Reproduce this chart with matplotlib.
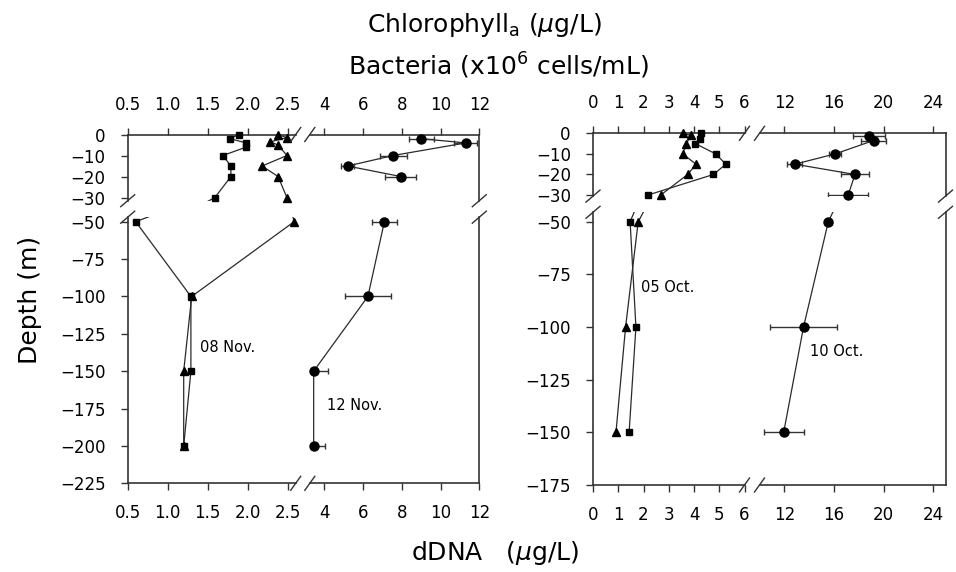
import matplotlib
matplotlib.use("Agg")
import matplotlib.pyplot as plt
from matplotlib.lines import Line2D

plt.rcParams['font.family'] = ['DejaVu Sans']
plt.rcParams['mathtext.fontset'] = 'dejavusans'

# ---------------- data ----------------
# Left panel (November): squares & triangles on low x-range, bacteria (circles) on high range
nov_sq_depth = [0, -2, -4, -6, -10, -15, -20, -30, -50, -100, -150, -200]
nov_sq_val = [1.89, 1.78, 1.98, 1.98, 1.69, 1.79, 1.79, 1.59, 0.60, 1.29, 1.29, 1.20]
nov_tri_depth = [0, -1.5, -3.5, -5, -10, -15, -20, -30, -50, -100, -150, -200]
nov_tri_val = [2.38, 2.49, 2.28, 2.38, 2.49, 2.18, 2.38, 2.49, 2.58, 1.30, 1.20, 1.20]
nov_bact_depth = [-2, -4, -10, -15, -20, -50, -100, -150, -200]
nov_bact_val = [9.0, 11.3, 7.55, 5.2, 7.95, 7.1, 6.25, 3.45, 3.45]
nov_bact_err = [0.65, 0.6, 0.7, 0.35, 0.8, 0.65, 1.2, 0.75, 0.6]

# Right panel (October)
oct_sq_depth = [0, -3, -5, -10, -15, -20, -30, -50, -100, -150]
oct_sq_val = [4.27, 4.25, 4.05, 4.86, 5.26, 4.77, 2.17, 1.47, 1.70, 1.43]
oct_tri_depth = [0, -1, -5, -10, -15, -20, -30, -50, -100, -150]
oct_tri_val = [3.55, 3.87, 3.70, 3.55, 4.08, 3.75, 2.68, 1.79, 1.29, 0.91]
oct_bact_depth = [-1.5, -3.5, -10, -15, -20, -30, -50, -100, -150]
oct_bact_val = [18.8, 19.2, 16.1, 12.85, 17.7, 17.15, 15.55, 13.55, 11.95]
oct_bact_err = [1.3, 1.0, 0.5, 0.6, 1.1, 1.6, 0.3, 2.7, 1.6]

# ticks
nov_xticks = [[0.5, 1.0, 1.5, 2.0, 2.5], [4, 6, 8, 10, 12]]
oct_xticks = [[0, 1, 2, 3, 4, 5, 6], [12, 16, 20, 24]]
upper_yticks = [0, -10, -20, -30]
nov_lower_yticks = [-50, -75, -100, -125, -150, -175, -200, -225]
oct_lower_yticks = [-50, -75, -100, -125, -150, -175]

# ---------------- figure ----------------
W, H = 956, 572
fig = plt.figure(figsize=(W / 100, H / 100), dpi=100)
AX_C = '#333333'
LINE_C = '#2a2a2a'
TICK_FS = 12


def add_ax(x0, x1, y0, y1):
    return fig.add_axes([x0 / W, 1 - y1 / H, (x1 - x0) / W, (y1 - y0) / H])


def brk(px, py, dx, dy):
    fig.add_artist(Line2D([(px - dx) / W, (px + dx) / W],
                          [1 - (py + dy) / H, 1 - (py - dy) / H],
                          transform=fig.transFigure, color=AX_C, lw=1.0))


def in_lim(ax, x, y):
    x0, x1 = ax.get_xlim()
    y0, y1 = ax.get_ylim()
    return x0 <= x <= x1 and y0 <= y <= y1


def make_panel(xpix, ypix, xlims, ylims, xticks, yticks):
    grid = [[None, None], [None, None]]
    for r in range(2):
        for c in range(2):
            ax = add_ax(xpix[c][0], xpix[c][1], ypix[r][0], ypix[r][1])
            ax.set_facecolor('none')
            ax.set_xlim(*xlims[c])
            ax.set_ylim(*ylims[r])
            for s in ax.spines.values():
                s.set_color(AX_C)
                s.set_linewidth(1.2)
            ax.spines['left'].set_visible(c == 0)
            ax.spines['right'].set_visible(c == 1)
            ax.spines['top'].set_visible(r == 0)
            ax.spines['bottom'].set_visible(r == 1)
            ax.set_xticks(xticks[c])
            ax.tick_params(axis='x', top=(r == 0), bottom=(r == 1),
                           labeltop=(r == 0), labelbottom=(r == 1),
                           direction='out', length=5, width=1, pad=10,
                           labelsize=TICK_FS, color=AX_C)
            if c == 0:
                ax.set_yticks(yticks[r])
            else:
                ax.set_yticks([])
            ax.tick_params(axis='y', left=(c == 0), right=False,
                           labelleft=(c == 0), direction='out', length=5,
                           width=1, pad=11, labelsize=TICK_FS, color=AX_C)
            grid[r][c] = ax
    # break marks
    for py in (ypix[0][1], ypix[1][0]):
        brk(xpix[0][0], py, 7, 6)
        brk(xpix[1][1], py, 7, 6)
    for px in (xpix[0][1], xpix[1][0]):
        brk(px, ypix[0][0], 5, 7)
        brk(px, ypix[1][1], 5, 7)
    return grid


def profile(ax, vals, depths, marker, ms):
    ax.plot(vals, depths, '-', color=LINE_C, lw=0.9, clip_on=True, zorder=2)
    pts = [(v, d) for v, d in zip(vals, depths) if in_lim(ax, v, d)]
    if pts:
        ax.plot([p[0] for p in pts], [p[1] for p in pts], linestyle='none',
                marker=marker, ms=ms, color='black', clip_on=False, zorder=4)


def bact(ax, vals, depths, errs):
    ax.plot(vals, depths, '-', color=LINE_C, lw=0.9, clip_on=True, zorder=2)
    ax.errorbar(vals, depths, xerr=errs, fmt='none', ecolor='#333333',
                elinewidth=1.0, capsize=2.2, capthick=1.0, zorder=3)
    pts = [(v, d) for v, d in zip(vals, depths) if in_lim(ax, v, d)]
    if pts:
        ax.plot([p[0] for p in pts], [p[1] for p in pts], linestyle='none',
                marker='o', ms=6.5, color='black', clip_on=False, zorder=4)


# ---- left panel (November) ----
L = make_panel(xpix=[(127.7, 295.7), (309.8, 479.3)],
               ypix=[(134.5, 200.7), (217.2, 483.3)],
               xlims=[(0.5, 2.6), (3.25, 12)],
               ylims=[(-31.5, 0), (-225, -47)],
               xticks=nov_xticks,
               yticks=[upper_yticks, nov_lower_yticks])
for r in range(2):
    ax = L[r][0]
    profile(ax, nov_sq_val, nov_sq_depth, 's', 4.6)
    profile(ax, nov_tri_val, nov_tri_depth, '^', 5.5)
up = [i for i, d in enumerate(nov_bact_depth) if d > -40]
lo = [i for i, d in enumerate(nov_bact_depth) if d <= -40]
bact(L[0][1], [nov_bact_val[i] for i in up], [nov_bact_depth[i] for i in up],
     [nov_bact_err[i] for i in up])
bact(L[1][1], [nov_bact_val[i] for i in lo], [nov_bact_depth[i] for i in lo],
     [nov_bact_err[i] for i in lo])

# ---- right panel (October) ----
R = make_panel(xpix=[(593, 744.5), (759.5, 945.5)],
               ypix=[(133.3, 196.1), (212.3, 485)],
               xlims=[(0, 6), (10, 25)],
               ylims=[(-30.5, 0), (-175, -45.5)],
               xticks=oct_xticks,
               yticks=[upper_yticks, oct_lower_yticks])
for r in range(2):
    ax = R[r][0]
    profile(ax, oct_sq_val, oct_sq_depth, 's', 4.6)
    profile(ax, oct_tri_val, oct_tri_depth, '^', 5.5)
    bact(R[r][1], oct_bact_val, oct_bact_depth, oct_bact_err)


# ---- annotations ----
def ftext(px, py, s, **kw):
    fig.text(px / W, 1 - py / H, s, **kw)


ftext(200, 348, '08 Nov.', fontsize=10.5, ha='left', va='center')
ftext(327, 406, '12 Nov.', fontsize=10.5, ha='left', va='center')
ftext(641, 288, '05 Oct.', fontsize=10.5, ha='left', va='center')
ftext(810, 351, '10 Oct.', fontsize=10.5, ha='left', va='center')

ftext(484, 32, r'Chlorophyll$_{\rm a}$ ($\mu$g/L)', fontsize=18, ha='center', va='baseline')
ftext(498, 75, r'Bacteria (x10$^{6}$ cells/mL)', fontsize=18, ha='center', va='baseline')
ftext(495, 560, r'dDNA   ($\mu$g/L)', fontsize=18, ha='center', va='baseline')
ftext(30, 300, 'Depth (m)', fontsize=18, ha='center', va='center', rotation=90)

fig.savefig('out.png', dpi=100)
